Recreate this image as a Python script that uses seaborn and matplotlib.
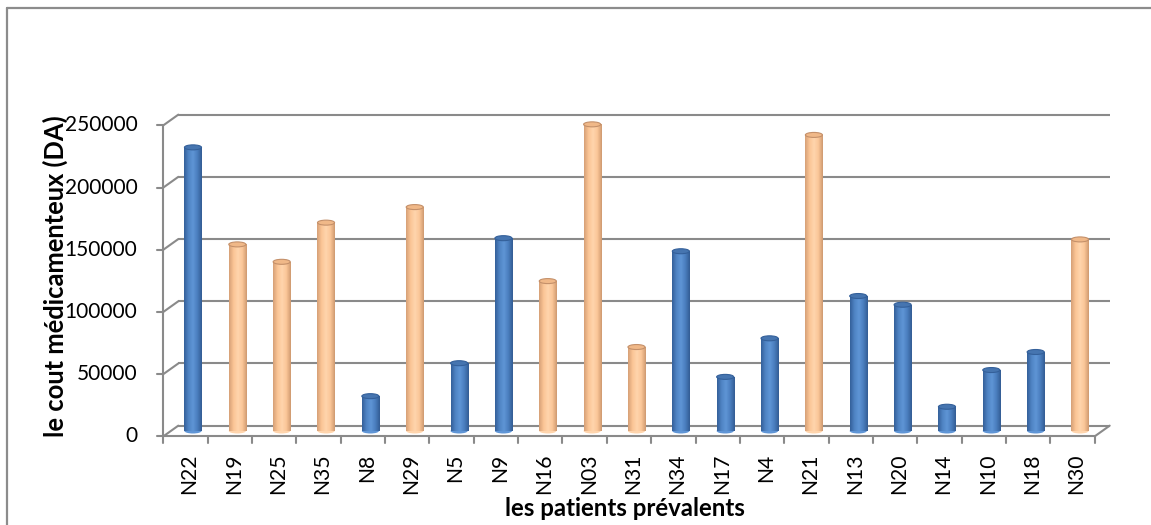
import numpy as np
import matplotlib
matplotlib.use("Agg")
import matplotlib.pyplot as plt
from matplotlib.lines import Line2D
from matplotlib.patches import Ellipse
from matplotlib.colors import LinearSegmentedColormap
import seaborn as sns
import pandas as pd

# --- data -------------------------------------------------------------
patients = ["N22", "N19", "N25", "N35", "N8", "N29", "N5", "N9", "N16", "N03",
            "N31", "N34", "N17", "N4", "N21", "N13", "N20", "N14", "N10", "N18", "N30"]
costs = [228000, 150000, 136000, 167500, 28000, 180000, 54500, 155000, 120500, 246500,
         67500, 144500, 43500, 74500, 238000, 108500, 101500, 19500, 49000, 63500, 154000]
groups = ["A", "B", "B", "B", "A", "B", "A", "A", "B", "B",
          "B", "A", "A", "A", "B", "A", "A", "A", "A", "A", "B"]
y_ticks = [0, 50000, 100000, 150000, 200000, 250000]

x_label = "les patients prévalents"
y_label = "le cout médicamenteux (DA)"

palette = {"A": "#4F81BD", "B": "#FAC090"}
# dark edge / light highlight tones used for the cylinder shading
shades = {
    "A": ["#34609A", "#4F84C4", "#5F95D6", "#4A7EBE", "#335D94"],
    "B": ["#D6A077", "#FBC595", "#FFD5AD", "#FBC698", "#CF9A70"],
}
top_colors = {"A": ("#4675B0", "#34609A"), "B": ("#F0B888", "#C4906A")}

df = pd.DataFrame({"patient": patients, "cost": costs, "group": groups})

sns.set_theme(style="white")
plt.rcParams["font.family"] = ["Lato", "DejaVu Sans"]

W, H = 1151, 525
fig = plt.figure(figsize=(W / 100, H / 100), dpi=100)
fig.patch.set_facecolor("white")

# plot plane (middle depth of the 3-D box)
ax = fig.add_axes([170.8 / W, 94 / H, 931.4 / W, 311 / H])
ax.set_axis_off()

BAR_W = 0.385
sns.barplot(data=df, x="patient", y="cost", hue="group", order=patients,
            palette=palette, dodge=False, width=BAR_W, legend=False,
            linewidth=0, ax=ax, zorder=3)
ax.set_xlim(-0.5, len(patients) - 0.5)
ax.set_ylim(0, 250000)

# pixel -> data conversions for the pseudo 3-D depth
px_x = (len(patients)) / 931.4
px_y = 250000 / 311
DX, DY = 7.5 * px_x, 5.35 * px_y
grid_c = "#8A8A8A"
lw = 1.5

x0, x1 = -0.5, len(patients) - 0.5

# back wall gridlines
for v in y_ticks:
    ax.plot([x0 + DX, x1 + DX], [v + DY, v + DY], color=grid_c, lw=lw,
            clip_on=False, zorder=1, solid_capstyle="butt")
    # side-wall connector from front axis to back wall
    ax.plot([x0 - DX, x0 + DX], [v - DY, v + DY], color=grid_c, lw=lw,
            clip_on=False, zorder=1)
    # y tick + label
    ax.plot([x0 - DX - 6 * px_x, x0 - DX], [v - DY, v - DY], color=grid_c, lw=lw,
            clip_on=False, zorder=1)
    ax.text(x0 - DX - 26 * px_x, v - DY, f"{v}", ha="right", va="center",
            fontsize=15, color="black", clip_on=False)

# front vertical axis
ax.plot([x0 - DX, x0 - DX], [0 - DY, 250000 - DY], color=grid_c, lw=lw,
        clip_on=False, zorder=1)
# floor front edge and right side
ax.plot([x0 - DX, x1 - DX], [-DY, -DY], color=grid_c, lw=lw, clip_on=False, zorder=2)
ax.plot([x1 - DX, x1 + DX], [-DY, DY], color=grid_c, lw=lw, clip_on=False, zorder=2)

# category ticks and labels
for k in range(len(patients) + 1):
    xb = k - 0.5 - DX
    ax.plot([xb, xb], [-DY, -DY - 7 * px_y], color=grid_c, lw=lw, clip_on=False, zorder=2)
for i, name in enumerate(patients):
    ax.text(i - DX + 4 * px_x, -DY - 17 * px_y, name, rotation=90, ha="center",
            va="top", fontsize=15.2, color="black", clip_on=False)

# cylinder shading on every bar
grad = np.linspace(0, 1, 64).reshape(1, -1)
ell_h = 5 * px_y
for patch in list(ax.patches):
    bx, bw, bh = patch.get_x(), patch.get_width(), patch.get_height()
    g = groups[int(round(bx + bw / 2))]
    cmap = LinearSegmentedColormap.from_list("cyl_" + g, shades[g])
    im = ax.imshow(grad, extent=[bx, bx + bw, 0, bh], aspect="auto", cmap=cmap,
                   zorder=4, interpolation="bilinear")
    im.set_clip_path(patch)
    # rounded bottom
    ax.add_patch(Ellipse((bx + bw / 2, 0), bw, ell_h, facecolor=shades[g][2],
                         edgecolor="none", zorder=3, clip_on=False))
    # top cap
    ax.add_patch(Ellipse((bx + bw / 2, bh), bw, ell_h, facecolor=top_colors[g][0],
                         edgecolor=top_colors[g][1], lw=0.8, zorder=5, clip_on=False))

ax.set_xlim(-0.5, len(patients) - 0.5)
ax.set_ylim(0, 250000)

# axis titles
fig.text(625 / W, 1 - 508 / H, x_label, ha="center", va="center",
         fontsize=17.3, fontweight="bold", color="black")
fig.text(55 / W, 1 - 276 / H, y_label, ha="center", va="center", rotation=90,
         fontsize=18.4, fontweight="bold", color="black")

# chart-area border
bc = "#8C8C8C"
fig.add_artist(Line2D([7.5 / W, 7.5 / W], [0, 1 - 7.5 / H], transform=fig.transFigure,
                      color=bc, lw=1.6))
fig.add_artist(Line2D([7.5 / W, 1], [1 - 7.5 / H, 1 - 7.5 / H], transform=fig.transFigure,
                      color=bc, lw=1.6))

fig.savefig("out.png", dpi=100)
